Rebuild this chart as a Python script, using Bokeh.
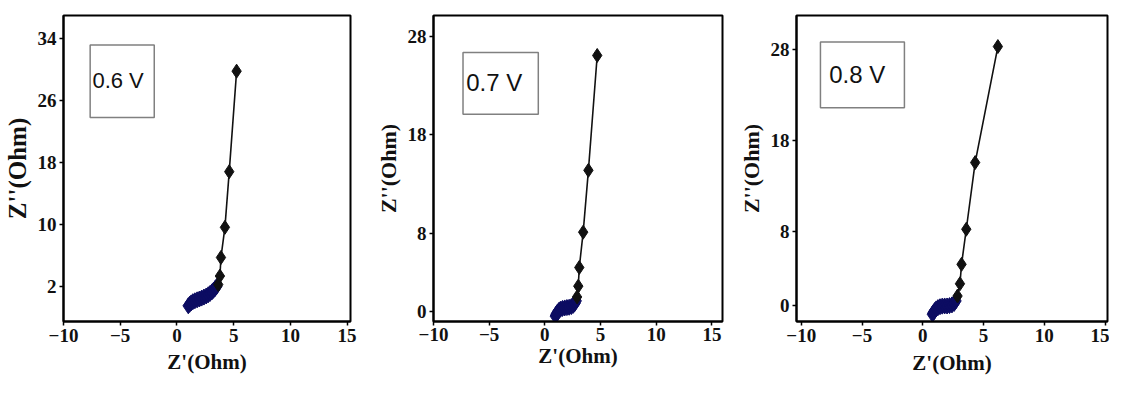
from bokeh.plotting import figure
from bokeh.layouts import row
from bokeh.models import BoxAnnotation, Label, FixedTicker
from bokeh.embed import file_html
from bokeh.resources import INLINE

x_ticks = [-10, -5, 0, 5, 10, 15]
labels = ["0.6 V", "0.7 V", "0.8 V"]

# 0.6 V : dense low-frequency region (navy) and high points (black diamonds)
v06_low_x = [1.00, 1.12, 1.25, 1.40, 1.58, 1.78, 1.98, 2.18, 2.38, 2.58, 2.76, 2.92, 3.08, 3.22, 3.36, 3.50]
v06_low_y = [-0.55, -0.35, -0.18, -0.02, 0.10, 0.22, 0.33, 0.45, 0.58, 0.72, 0.88, 1.05, 1.25, 1.45, 1.68, 1.95]
v06_high_x = [3.64, 3.79, 3.88, 4.23, 4.61, 5.26]
v06_high_y = [2.2, 3.3, 5.7, 9.6, 16.8, 29.8]
v06_yticks = [2, 10, 18, 26, 34]

# 0.7 V
v07_low_x = [0.95, 1.02, 1.12, 1.25, 1.40, 1.58, 1.78, 1.98, 2.18, 2.38, 2.55, 2.70, 2.80]
v07_low_y = [-0.45, -0.25, -0.05, 0.12, 0.25, 0.33, 0.38, 0.42, 0.45, 0.52, 0.65, 0.85, 1.10]
v07_high_x = [2.89, 3.00, 3.09, 3.44, 3.91, 4.70]
v07_high_y = [1.5, 2.6, 4.5, 8.1, 14.4, 26.1]
v07_yticks = [0, 8, 18, 28]

# 0.8 V
v08_low_x = [0.80, 0.88, 0.98, 1.10, 1.25, 1.42, 1.60, 1.80, 2.00, 2.20, 2.40, 2.58, 2.72]
v08_low_y = [-1.00, -0.80, -0.60, -0.42, -0.28, -0.18, -0.12, -0.10, -0.10, -0.06, 0.02, 0.18, 0.45]
v08_high_x = [2.86, 3.06, 3.19, 3.58, 4.31, 6.18]
v08_high_y = [0.99, 2.33, 4.46, 8.3, 15.6, 28.3]
v08_yticks = [0, 8, 18, 28]

SERIF = "Liberation Serif"
SANS = "Liberation Sans"


def make_panel(width, height, borders, xr, yr, yticks, low_x, low_y, high_x, high_y,
               label, box, text_pos, text_size, xstand, ytitle_size):
    bl, br, bt, bb = borders
    p = figure(width=width, height=height, x_range=xr, y_range=yr,
               output_backend="svg", toolbar_location=None,
               min_border_left=bl, min_border_right=br,
               min_border_top=bt, min_border_bottom=bb)
    p.xgrid.visible = False
    p.ygrid.visible = False
    p.outline_line_color = "black"
    p.outline_line_width = 2
    p.outline_line_alpha = 1
    p.background_fill_color = "white"
    p.border_fill_color = "white"

    p.xaxis.ticker = FixedTicker(ticks=x_ticks)
    p.yaxis.ticker = FixedTicker(ticks=yticks)
    for ax in (p.xaxis, p.yaxis):
        ax.axis_line_color = "black"
        ax.axis_line_width = 2
        ax.major_tick_line_color = "black"
        ax.major_tick_line_width = 1.5
        ax.major_tick_out = 4
        ax.major_tick_in = 0
        ax.minor_tick_line_color = None
        ax.major_label_text_font = SERIF
        ax.major_label_text_font_style = "bold"
        ax.major_label_text_font_size = "19px"
        ax.major_label_text_color = "#111111"
        ax.major_label_standoff = 3
        ax.axis_label_text_font = SERIF
        ax.axis_label_text_font_style = "bold"
        ax.axis_label_text_font_size = "21px"
        ax.axis_label_text_color = "#111111"
    p.xaxis.axis_label = "Z'(Ohm)"
    p.yaxis.axis_label = "Z''(Ohm)"
    p.xaxis.major_label_standoff = xstand[0]
    p.xaxis.axis_label_standoff = xstand[1]
    p.yaxis.axis_label_standoff = 4
    p.yaxis.axis_label_text_font_size = ytitle_size

    all_x = low_x + high_x
    all_y = low_y + high_y
    p.line(all_x, all_y, line_color="#111111", line_width=1.6)
    p.scatter(low_x, low_y, marker="diamond", size=16,
              fill_color="#0c0c62", line_color="#0c0c62")
    p.scatter(high_x, high_y, marker="diamond", size=14,
              fill_color="#111111", line_color="#111111")

    l, r, b, t = box
    p.add_layout(BoxAnnotation(left=l, right=r, bottom=b, top=t,
                               fill_alpha=0, line_color="#808080",
                               line_width=1.5, line_alpha=1))
    p.add_layout(Label(x=text_pos[0], y=text_pos[1], text=label,
                       text_font=SANS, text_font_size=text_size,
                       text_color="#111111", text_baseline="middle",
                       text_align="left"))
    return p


p1 = make_panel(372, 378, (63, 22, 15, 55), (-10, 15.3), (-2.58, 37.0), v06_yticks,
                v06_low_x, v06_low_y, v06_high_x, v06_high_y,
                labels[0], (-7.65, -2.0, 23.8, 33.2), (-7.45, 28.6), "22px", (3, 5), "25px")
p2 = make_panel(363, 378, (56, 13, 15, 52), (-10, 15.95), (-1.0, 30.17), v07_yticks,
                v07_low_x, v07_low_y, v07_high_x, v07_high_y,
                labels[1], (-7.35, -0.59, 20.1, 26.4), (-7.06, 23.3), "24px", (2, 0), "22px")
p3 = make_panel(374, 378, (58, 2, 14, 57), (-10.39, 15.2), (-1.8, 31.7), v08_yticks,
                v08_low_x, v08_low_y, v08_high_x, v08_high_y,
                labels[2], (-8.42, -1.51, 21.6, 28.8), (-7.7, 25.2), "24px", (3, 6), "22px")

layout = row(p1, p2, p3, spacing=0)
open("out.html", "w").write(file_html(layout, INLINE))
